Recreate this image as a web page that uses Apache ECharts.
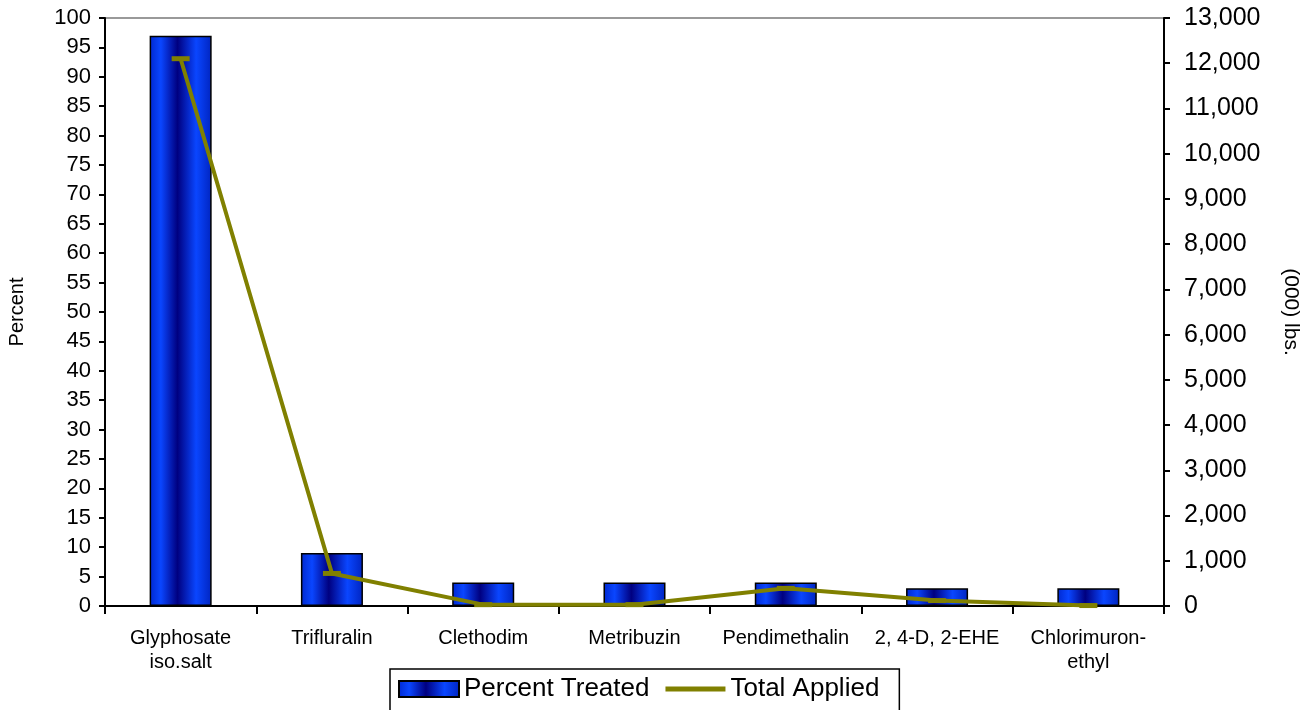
<!DOCTYPE html>
<html>
<head>
<meta charset="utf-8">
<script src="https://cdn.jsdelivr.net/npm/echarts@6/dist/echarts.min.js"></script>
<style>
  html, body { margin: 0; padding: 0; background: #fff; }
  #chart { width: 1302px; height: 710px; }
</style>
</head>
<body>
<div id="chart"></div>
<script>
  // data
  let categories = ['Glyphosate\niso.salt', 'Trifluralin', 'Clethodim', 'Metribuzin', 'Pendimethalin', '2, 4-D, 2-EHE', 'Chlorimuron-\nethyl'];
  let percentTreated = [97, 9, 4, 4, 4, 3, 3];
  let totalApplied = [12100, 720, 30, 30, 390, 120, 10];

  let font = 'Liberation Sans, Arial, sans-serif';

  // blue banded fill like the excel texture
  let barFill = new echarts.graphic.LinearGradient(0, 0, 1, 0, [
    {offset: 0, color: '#0028d0'},
    {offset: 0.18, color: '#0a46ff'},
    {offset: 0.45, color: '#000080'},
    {offset: 0.75, color: '#0a46ff'},
    {offset: 1, color: '#0024c0'}
  ]);

  let myChart = echarts.init(document.getElementById('chart'));
  let option = {
    animation: false,
    textStyle: {fontFamily: font, color: '#000'},
    grid: {
      left: 105,
      right: 138,
      top: 18,
      bottom: 104,
      outerBoundsMode: 'none',
      show: true,
      borderColor: '#999',
      borderWidth: 2
    },
    legend: {
      left: 390,
      top: 669,
      padding: [7, 20, 12, 8],
      itemGap: 16,
      itemWidth: 60,
      itemHeight: 16,
      borderColor: '#000',
      borderWidth: 1.5,
      textStyle: {fontSize: 26, fontFamily: font, color: '#000'},
      data: [
        {name: 'Percent Treated', icon: 'rect', itemStyle: {borderColor: '#000', borderWidth: 2}},
        {name: 'Total Applied', icon: 'path://M0,0H60V5H0Z'}
      ]
    },
    xAxis: {
      type: 'category',
      data: categories,
      axisLine: {lineStyle: {color: '#000', width: 2}},
      axisTick: {show: true, length: 8, lineStyle: {color: '#000', width: 2}},
      axisLabel: {fontSize: 20, color: '#000', margin: 20, lineHeight: 24, interval: 0}
    },
    yAxis: [
      {
        type: 'value',
        min: 0,
        max: 100,
        interval: 5,
        name: 'Percent',
        nameLocation: 'middle',
        nameGap: 78,
        nameTextStyle: {fontSize: 20, color: '#000'},
        axisLine: {show: true, lineStyle: {color: '#000', width: 2}},
        axisTick: {show: true, length: 6, lineStyle: {color: '#000', width: 2}},
        axisLabel: {fontSize: 22, color: '#000', margin: 14},
        splitLine: {show: false}
      },
      {
        type: 'value',
        min: 0,
        max: 13000,
        interval: 1000,
        name: '(000) lbs.',
        nameLocation: 'middle',
        nameRotate: -90,
        nameGap: 116,
        nameTextStyle: {fontSize: 21, color: '#000'},
        axisLine: {show: true, lineStyle: {color: '#000', width: 2}},
        axisTick: {show: true, length: 6, lineStyle: {color: '#000', width: 2}},
        axisLabel: {
          fontSize: 25, color: '#000', margin: 20,
          formatter: v => v.toLocaleString('en-US')
        },
        splitLine: {show: false}
      }
    ],
    series: [
      {
        name: 'Percent Treated',
        type: 'bar',
        yAxisIndex: 0,
        barWidth: '41%',
        data: percentTreated,
        itemStyle: {color: barFill, borderColor: '#000', borderWidth: 1.5}
      },
      {
        name: 'Total Applied',
        type: 'line',
        yAxisIndex: 1,
        data: totalApplied,
        symbol: 'rect',
        symbolSize: [18, 5],
        itemStyle: {color: '#808000'},
        lineStyle: {color: '#808000', width: 4}
      }
    ]
  };
  myChart.setOption(option);
</script>
</body>
</html>
